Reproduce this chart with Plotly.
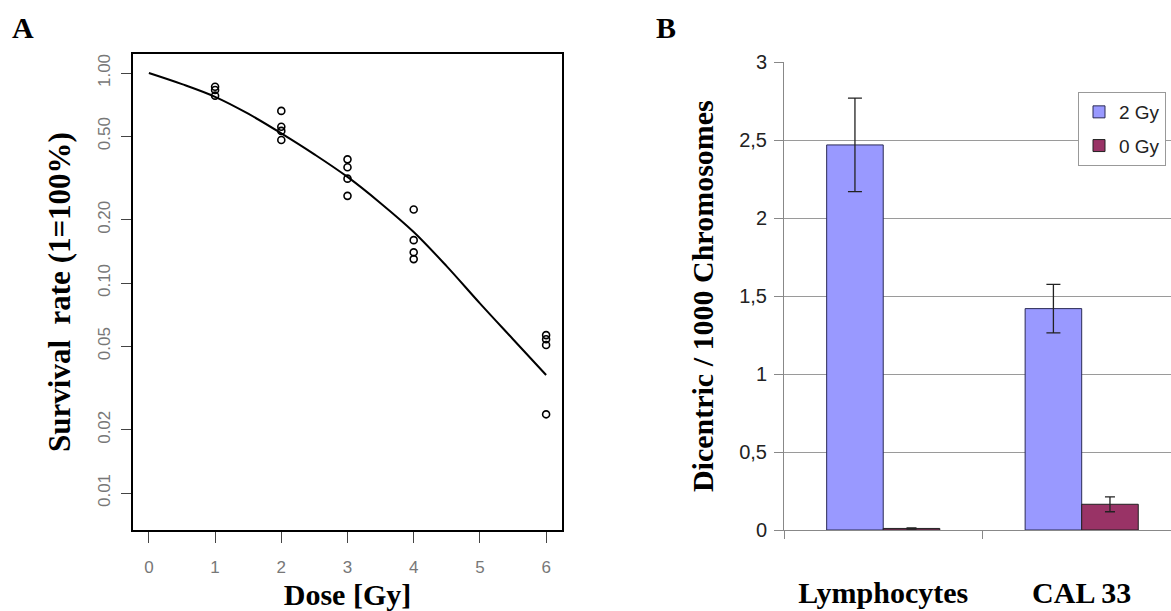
import plotly.graph_objects as go

# ---------------- Panel A data ----------------
dose_pts = [1, 1, 1, 2, 2, 2, 2, 3, 3, 3, 3, 4, 4, 4, 4, 6, 6, 6, 6]
surv_pts = [0.86, 0.83, 0.78,
            0.66, 0.555, 0.53, 0.48,
            0.388, 0.356, 0.314, 0.26,
            0.224, 0.16, 0.14, 0.13,
            0.0565, 0.054, 0.0507, 0.0237]
fit_dose = [0, 0.5, 1, 1.5, 2, 2.5, 3, 3.5, 4, 4.5, 5, 5.5, 6]
fit_surv = [1.0, 0.885, 0.77, 0.64, 0.516, 0.41, 0.32, 0.24, 0.175, 0.12, 0.08, 0.054, 0.0365]
a_xticks = [0, 1, 2, 3, 4, 5, 6]
a_yticks = [0.01, 0.02, 0.05, 0.1, 0.2, 0.5, 1.0]
a_ytext = ["0.01", "0.02", "0.05", "0.10", "0.20", "0.50", "1.00"]

# ---------------- Panel B data ----------------
groups = ["Lymphocytes", "CAL 33"]
gy2 = [2.47, 1.42]
gy2_err = [0.30, 0.155]
gy0 = [0.01, 0.165]
gy0_err = [0.004, 0.048]
b_yticks = [0, 0.5, 1, 1.5, 2, 2.5, 3]
b_ytext = ["0", "0,5", "1", "1,5", "2", "2,5", "3"]

W, H = 1171, 611
SERIF = "Liberation Serif, Times New Roman, serif"
SANS = "Liberation Sans, Arial, sans-serif"

fig = go.Figure()

fig.add_trace(go.Scatter(
    x=dose_pts, y=surv_pts, mode="markers",
    marker=dict(symbol="circle-open", size=7, color="black", line=dict(width=1.6)),
    showlegend=False, xaxis="x", yaxis="y"))
fig.add_trace(go.Scatter(
    x=fit_dose, y=fit_surv, mode="lines",
    line=dict(color="black", width=2, shape="spline"),
    showlegend=False, xaxis="x", yaxis="y"))

fig.add_trace(go.Bar(
    x=groups, y=gy2, name="2 Gy", legendgroup="a",
    marker=dict(color="#9999FF", line=dict(color="#2a2a55", width=1)),
    error_y=dict(type="data", array=gy2_err, color="#222222", thickness=1.3, width=7),
    xaxis="x2", yaxis="y2"))
fig.add_trace(go.Bar(
    x=groups, y=gy0, name="0 Gy", legendgroup="b",
    marker=dict(color="#993366", line=dict(color="#222222", width=1)),
    error_y=dict(type="data", array=gy0_err, color="#222222", thickness=1.3, width=5),
    xaxis="x2", yaxis="y2"))

fig.update_layout(
    template="none",
    width=W, height=H,
    margin=dict(l=0, r=0, t=0, b=0),
    paper_bgcolor="white", plot_bgcolor="white",
    barmode="group", bargap=0.43, bargroupgap=0,
    xaxis=dict(
        domain=[133 / W, 562 / W], range=[-0.24, 6.24], anchor="y",
        tickvals=a_xticks, ticks="outside", ticklen=11, tickwidth=1.3, tickcolor="#444",
        showline=True, linewidth=2, linecolor="black", mirror=True,
        showgrid=False, zeroline=False,
        tickfont=dict(family=SANS, size=17, color="#777"),
        ticklabelstandoff=10,
        title=dict(text="Dose [Gy]", font=dict(family=SERIF, size=30, color="black", weight="bold"), standoff=11),
    ),
    yaxis=dict(
        domain=[1 - 530 / H, 1 - 54 / H], type="log", range=[-2.176, 0.0905], anchor="x",
        tickvals=a_yticks, ticktext=a_ytext, tickangle=-90,
        ticks="outside", ticklen=10, tickwidth=1.3, tickcolor="#444",
        showline=True, linewidth=2, linecolor="black", mirror=True,
        showgrid=False, zeroline=False,
        tickfont=dict(family=SANS, size=17, color="#777"),
        ticklabelstandoff=4,
        title=dict(text="Survival\u00a0 rate (1=100%)", font=dict(family=SERIF, size=31, color="black", weight="bold"), standoff=15),
    ),
    xaxis2=dict(
        domain=[784 / W, 1.0], range=[-0.5, 1.45], type="category", anchor="y2",
        tickson="boundaries", ticks="outside", ticklen=8, tickcolor="#888", tickwidth=1,
        showline=True, linewidth=1, linecolor="#888",
        showgrid=False, zeroline=False,
        tickfont=dict(family=SERIF, size=30, color="black", weight="bold"),
        ticklabelstandoff=36,
    ),
    yaxis2=dict(
        domain=[1 - 530 / H, 1 - 62.3 / H], range=[0, 3], anchor="x2",
        tickvals=b_yticks, ticktext=b_ytext,
        ticks="outside", ticklen=9, tickcolor="#888", tickwidth=1,
        showline=True, linewidth=1, linecolor="#888",
        showgrid=True, gridcolor="#9a9a9a", gridwidth=1, zeroline=False,
        tickfont=dict(family=SANS, size=20, color="#222"),
        ticklabelstandoff=3,
        title=dict(text="Dicentric / 1000 Chromosomes", font=dict(family=SERIF, size=30, color="black", weight="bold"), standoff=16),
    ),
    legend=dict(
        x=1078 / W, y=1 - 92 / H, xanchor="left", yanchor="top",
        bgcolor="white", bordercolor="#999", borderwidth=1,
        font=dict(family=SANS, size=19, color="#222"),
        tracegroupgap=6, itemwidth=30,
    ),
    annotations=[
        dict(text="<b>A</b>", x=22.5 / W, y=1 - 27 / H, xref="paper", yref="paper",
             xanchor="center", yanchor="middle", showarrow=False,
             font=dict(family=SERIF, size=30, color="black")),
        dict(text="<b>B</b>", x=666 / W, y=1 - 27 / H, xref="paper", yref="paper",
             xanchor="center", yanchor="middle", showarrow=False,
             font=dict(family=SERIF, size=30, color="black")),
    ],
)

fig.write_html(
    "out.html",
    config={"displayModeBar": False},
    post_script="document.body.style.margin='0';document.body.style.padding='0';document.body.style.overflow='hidden';",
)
